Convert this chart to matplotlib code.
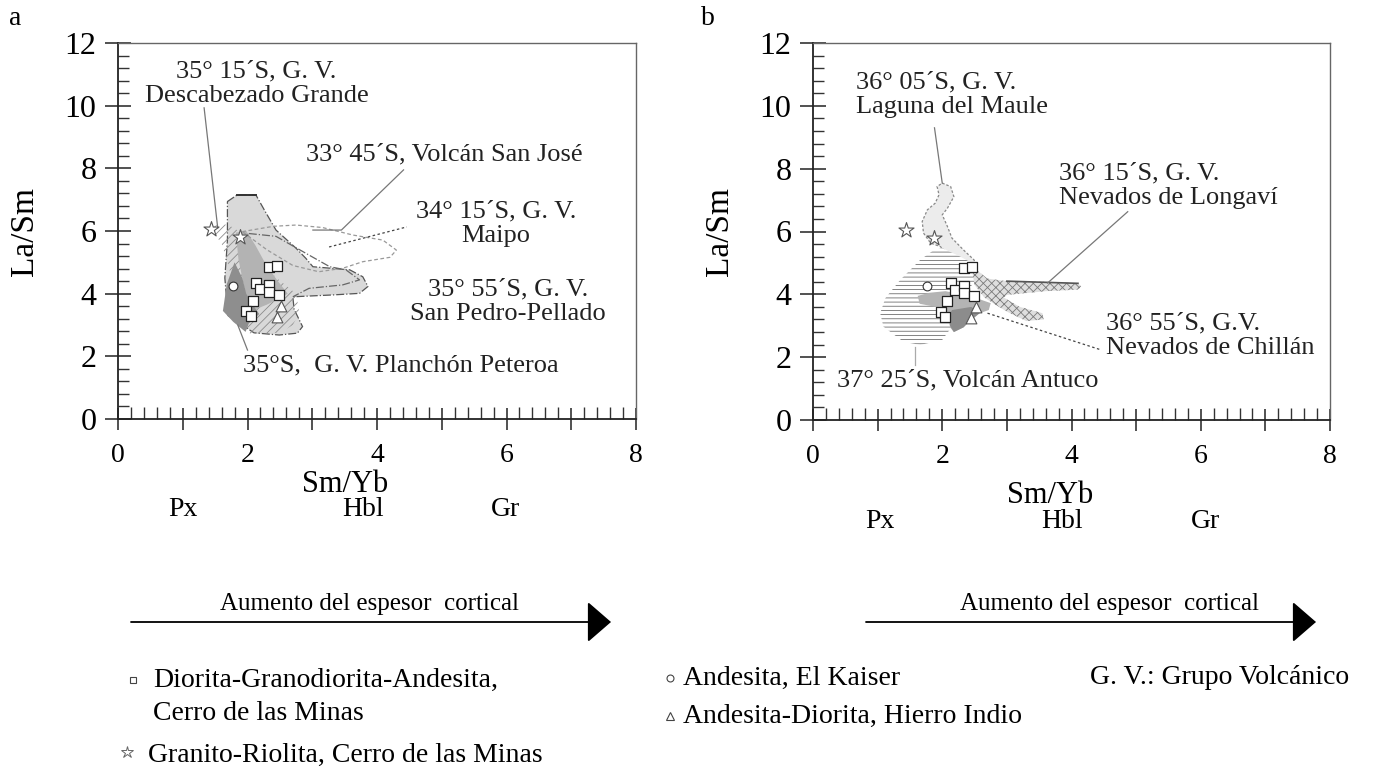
import numpy as np
import matplotlib.pyplot as plt
from matplotlib.patches import Polygon

plt.rcParams['font.family'] = ['Liberation Serif', 'DejaVu Serif']
plt.rcParams['hatch.linewidth'] = 0.6

# muestras (mismos datos en ambos paneles)
cuad_x = [2.33, 2.46, 2.13, 2.20, 2.33, 2.33, 2.49, 2.08, 1.98, 2.05]
cuad_y = [4.85, 4.88, 4.35, 4.15, 4.28, 4.05, 3.96, 3.78, 3.45, 3.28]
estr_x = [1.44, 1.88]
estr_y = [6.05, 5.80]
circ_x = [1.77]
circ_y = [4.25]
tri_x = [2.52, 2.45]
tri_y = [3.60, 3.25]

# campos de los centros volcanicos, panel a
campo_gris = [(1.69, 6.94), (1.84, 7.15), (2.13, 7.15), (2.26, 6.67), (2.44, 6.03), (2.75, 5.45),
              (2.9, 5.13), (3.01, 4.86), (3.58, 4.76), (3.78, 4.54), (3.86, 4.23), (3.73, 4.01),
              (3.32, 3.96), (2.70, 3.90), (2.72, 3.5), (2.85, 2.95), (2.77, 2.74), (2.49, 2.68),
              (2.1, 2.75), (1.7, 3.3), (1.65, 4.5), (1.69, 5.7)]
campo_rayado = [(1.42, 6.1), (1.6, 6.25), (1.8, 6.1), (2.0, 5.7), (2.2, 5.0), (2.45, 4.5), (2.75, 4.0),
                (2.8, 3.4), (2.7, 3.0), (2.5, 2.75), (2.05, 2.72), (1.85, 3.0), (1.8, 3.8), (1.72, 4.8),
                (1.6, 5.6)]
campo_medio = [(1.82, 5.95), (1.98, 6.0), (2.12, 5.55), (2.28, 4.95), (2.45, 4.45), (2.62, 4.0),
               (2.5, 3.85), (2.3, 3.65), (2.12, 3.5), (2.0, 3.7), (1.93, 4.4), (1.86, 5.1)]
campo_oscuro = [(1.8, 5.0), (1.92, 4.5), (1.98, 4.0), (2.08, 3.65), (2.18, 3.35), (2.02, 3.05),
                (1.97, 2.78), (1.78, 3.1), (1.62, 3.45), (1.68, 4.3)]
contorno_maipo = [(1.92, 5.98), (2.4, 6.15), (2.75, 6.19), (3.16, 6.11), (3.63, 5.87), (4.09, 5.71),
                  (4.3, 5.39), (4.2, 5.16), (3.78, 5.02), (3.47, 4.81), (3.1, 4.7), (2.7, 4.9), (2.3, 5.4)]
contorno_sanjose = [(2.02, 5.92), (2.44, 5.83), (2.9, 5.29), (3.27, 4.86), (3.52, 4.76), (3.73, 4.44),
                    (3.47, 4.28), (2.95, 4.17), (2.70, 3.90)]

# campos, panel b
campo_maule = [(2.0, 7.54), (2.13, 7.43), (2.18, 7.11), (2.08, 6.74), (2.0, 6.53), (2.08, 6.16),
               (2.15, 5.79), (2.33, 5.41), (2.49, 5.1), (2.54, 4.88), (2.4, 4.8), (2.23, 4.99),
               (2.08, 5.31), (1.97, 5.52), (1.82, 5.63), (1.71, 5.95), (1.69, 6.32), (1.77, 6.69),
               (1.89, 6.9), (1.95, 7.17), (1.92, 7.43)]
campo_antuco = [(2.0, 5.47), (2.28, 5.2), (2.54, 4.9), (2.49, 4.35), (2.3, 4.0), (2.18, 3.61),
                (2.15, 2.97), (2.0, 2.55), (1.66, 2.39), (1.4, 2.49), (1.09, 2.97), (1.04, 3.4),
                (1.12, 3.88), (1.35, 4.46), (1.66, 5.1), (1.87, 5.41)]
campo_longavi = [(2.45, 4.9), (2.7, 4.5), (3.0, 4.42), (3.6, 4.4), (4.1, 4.35), (4.15, 4.25), (4.1, 4.15),
                 (3.6, 4.1), (3.0, 3.98), (2.95, 3.9), (3.2, 3.6), (3.55, 3.4), (3.57, 3.2), (3.3, 3.15),
                 (3.0, 3.45), (2.8, 3.7), (2.65, 3.9), (2.5, 4.3)]
campo_chillan = [(1.62, 3.95), (1.8, 4.05), (2.05, 4.1), (2.3, 4.0), (2.5, 3.9), (2.75, 3.72),
                 (2.72, 3.5), (2.55, 3.38), (2.4, 3.1), (2.33, 2.95), (2.18, 2.8), (2.12, 2.95),
                 (2.1, 3.3), (1.9, 3.6), (1.65, 3.7)]
campo_chillan_osc = [(2.15, 3.5), (2.45, 3.6), (2.58, 3.4), (2.4, 3.1), (2.33, 2.95), (2.18, 2.8),
                     (2.12, 3.0), (2.1, 3.3)]

W, H = 1383, 779
fig = plt.figure(figsize=(W / 100, H / 100), dpi=100)
ax_a = fig.add_axes([118 / W, 1 - 419 / H, 518 / W, 376 / H])
ax_b = fig.add_axes([813 / W, 1 - 420 / H, 517 / W, 377 / H])


def ejes(ax):
    ax.set_xlim(0, 8)
    ax.set_ylim(0, 12)
    ax.set_xticks(range(9))
    ax.set_xticklabels([str(i) if i % 2 == 0 else '' for i in range(9)])
    ax.set_yticks(range(0, 13, 2))
    ax.set_xticks(np.arange(0, 8.01, 0.2), minor=True)
    ax.set_yticks(np.arange(0, 12.01, 0.4), minor=True)
    ax.tick_params(axis='x', which='major', direction='inout', length=16, width=1.1,
                   labelsize=20, pad=9, color='#222')
    ax.tick_params(axis='x', which='minor', direction='in', length=8.5, width=1.0, color='#333')
    ax.tick_params(axis='y', which='major', direction='inout', length=19, width=1.1,
                   labelsize=23, pad=6, color='#222')
    ax.tick_params(axis='y', which='minor', direction='in', length=8, width=1.0, color='#333')
    for s in ['left', 'bottom']:
        ax.spines[s].set_linewidth(1.3)
        ax.spines[s].set_color('#222')
    for s in ['top', 'right']:
        ax.spines[s].set_linewidth(1.0)
        ax.spines[s].set_color('#666')
    ax.set_xlabel('Sm/Yb', fontsize=22)
    ax.set_ylabel('La/Sm', fontsize=24)


def campo(ax, pts, fc, ec='none', lw=0.0, ls='-', hatch=None, z=1):
    ax.add_patch(Polygon(pts, closed=True, facecolor=fc, edgecolor=ec, lw=lw, ls=ls,
                         hatch=hatch, zorder=z))


def muestras(ax):
    ax.scatter(cuad_x, cuad_y, marker='s', s=50, facecolor='white', edgecolor='#222',
               linewidths=0.9, zorder=6)
    ax.scatter(estr_x, estr_y, marker='*', s=130, facecolor='white', edgecolor='#555',
               linewidths=0.8, zorder=6)
    ax.scatter(circ_x, circ_y, marker='o', s=40, facecolor='white', edgecolor='#333',
               linewidths=0.8, zorder=6)
    ax.scatter(tri_x, tri_y, marker='^', s=60, facecolor='white', edgecolor='#555',
               linewidths=0.8, zorder=6)


def linea(ax, xs, ys, ls='-', c='#777', lw=0.9):
    ax.plot(xs, ys, ls=ls, color=c, lw=lw, zorder=5)


txt = dict(fontsize=19, color='#222', linespacing=1.15)

# ---- panel a ----
ejes(ax_a)
campo(ax_a, campo_gris, '#d9d9d9', ec='#555', lw=0.9, ls='-.', z=1)
campo(ax_a, campo_rayado, 'none', ec='#8c8c8c', hatch='////', z=2)
campo(ax_a, campo_medio, '#b3b3b3', z=3)
campo(ax_a, campo_oscuro, '#8e8e8e', z=3)
ax_a.add_patch(Polygon(contorno_maipo, closed=True, fill=False, edgecolor='#999', lw=0.9,
                       ls=(0, (3, 2)), zorder=4))
linea(ax_a, [p[0] for p in contorno_sanjose], [p[1] for p in contorno_sanjose], ls='-.', c='#666')
ax_a.plot([1.84, 2.13], [7.15, 7.15], color='#333', lw=1.4, zorder=4)
muestras(ax_a)

linea(ax_a, [1.33, 1.54], [9.93, 6.1])
linea(ax_a, [3.01, 3.45, 4.41], [6.03, 6.03, 7.95])
linea(ax_a, [3.26, 4.46], [5.49, 6.13], ls=(0, (2, 2)), c='#444')
linea(ax_a, [1.85, 2.0], [3.0, 2.2])

ax_a.text(2.14, 10.69, '35° 15´S, G. V.\nDescabezado Grande', ha='center', va='center', **txt)
ax_a.text(2.9, 8.43, '33° 45´S, Volcán San José', ha='left', va='center', **txt)
ax_a.text(5.84, 6.22, '34° 15´S, G. V.\nMaipo', ha='center', va='center', **txt)
ax_a.text(6.02, 3.73, '35° 55´S, G. V.\nSan Pedro-Pellado', ha='center', va='center', **txt)
ax_a.text(1.93, 1.72, '35°S,  G. V. Planchón Peteroa', ha='left', va='center', **txt)

# ---- panel b ----
ejes(ax_b)
campo(ax_b, campo_maule, '#ececec', ec='#888', lw=0.9, ls=(0, (2, 1.5)), z=1)
campo(ax_b, campo_antuco, 'white', ec='#6e6e6e', hatch='----', z=2)
campo(ax_b, campo_longavi, '#dedede', ec='#7a7a7a', hatch='xxxx', z=2)
campo(ax_b, campo_chillan, '#b4b4b4', z=3)
campo(ax_b, campo_chillan_osc, '#8c8c8c', z=3)
ax_b.plot([3.0, 4.1], [4.42, 4.35], color='#555', lw=1.2, zorder=4)
muestras(ax_b)

linea(ax_b, [2.0, 1.88], [7.54, 9.3])
linea(ax_b, [3.63, 4.87], [4.36, 6.63])
linea(ax_b, [2.7, 4.46], [3.4, 2.23], ls=(0, (2, 2)), c='#444')
linea(ax_b, [1.58, 1.58], [2.33, 1.75], c='#aaa')

ax_b.text(0.67, 10.35, '36° 05´S, G. V.\nLaguna del Maule', ha='left', va='center', **txt)
ax_b.text(3.8, 7.45, '36° 15´S, G. V.\nNevados de Longaví', ha='left', va='center', **txt)
ax_b.text(4.53, 2.68, '36° 55´S, G.V.\nNevados de Chillán', ha='left', va='center', **txt)
ax_b.text(0.37, 1.27, '37° 25´S, Volcán Antuco', ha='left', va='center', **txt)

for ax in (ax_a, ax_b):
    ax.yaxis.set_label_coords(-0.15, 0.5)
ax_a.xaxis.set_label_coords(0.438, -0.135)
ax_b.xaxis.set_label_coords(0.458, -0.162)

# ---- anotaciones inferiores, en pixeles de la figura ----
ov = fig.add_axes([0, 0, 1, 1], zorder=-1)
ov.set_xlim(0, W)
ov.set_ylim(H, 0)
ov.axis('off')

ov.text(15, 18, 'a', fontsize=20, ha='center', va='center')
ov.text(708, 18, 'b', fontsize=20, ha='center', va='center')

for y0, xs in [(509, (183, 363, 505)), (522, (880, 1062, 1206))]:
    for x, lab in zip(xs, ['Px', 'Hbl', 'Gr']):
        ov.text(x, y0, lab, fontsize=20, ha='center', va='center')

for x1, x2, xt in [(131, 611, 370), (866, 1316, 1110)]:
    ov.annotate('', xy=(x2, 622), xytext=(x1, 622),
                arrowprops=dict(arrowstyle='-|>,head_length=0.75,head_width=0.65',
                                mutation_scale=20, lw=1.3, color='black',
                                shrinkA=0, shrinkB=0))
    ov.text(xt, 604, 'Aumento del espesor  cortical', fontsize=18, ha='center', va='center')

leg = dict(fontsize=20, ha='left', va='center')
ov.plot([133], [680], marker='s', ms=5, mfc='white', mec='#444', mew=0.8)
ov.text(153, 680, 'Diorita-Granodiorita-Andesita,', **leg)
ov.text(153, 713, 'Cerro de las Minas', **leg)
ov.plot([127], [752], marker='*', ms=9, mfc='white', mec='#666', mew=0.7)
ov.text(148, 755, 'Granito-Riolita, Cerro de las Minas', **leg)
ov.plot([670], [678], marker='o', ms=5, mfc='white', mec='#444', mew=0.8)
ov.text(683, 678, 'Andesita, El Kaiser', **leg)
ov.plot([670], [716], marker='^', ms=6, mfc='white', mec='#444', mew=0.8)
ov.text(683, 716, 'Andesita-Diorita, Hierro Indio', **leg)
ov.text(1090, 678, 'G. V.: Grupo Volcánico', **leg)

fig.savefig('out.png', dpi=100)
